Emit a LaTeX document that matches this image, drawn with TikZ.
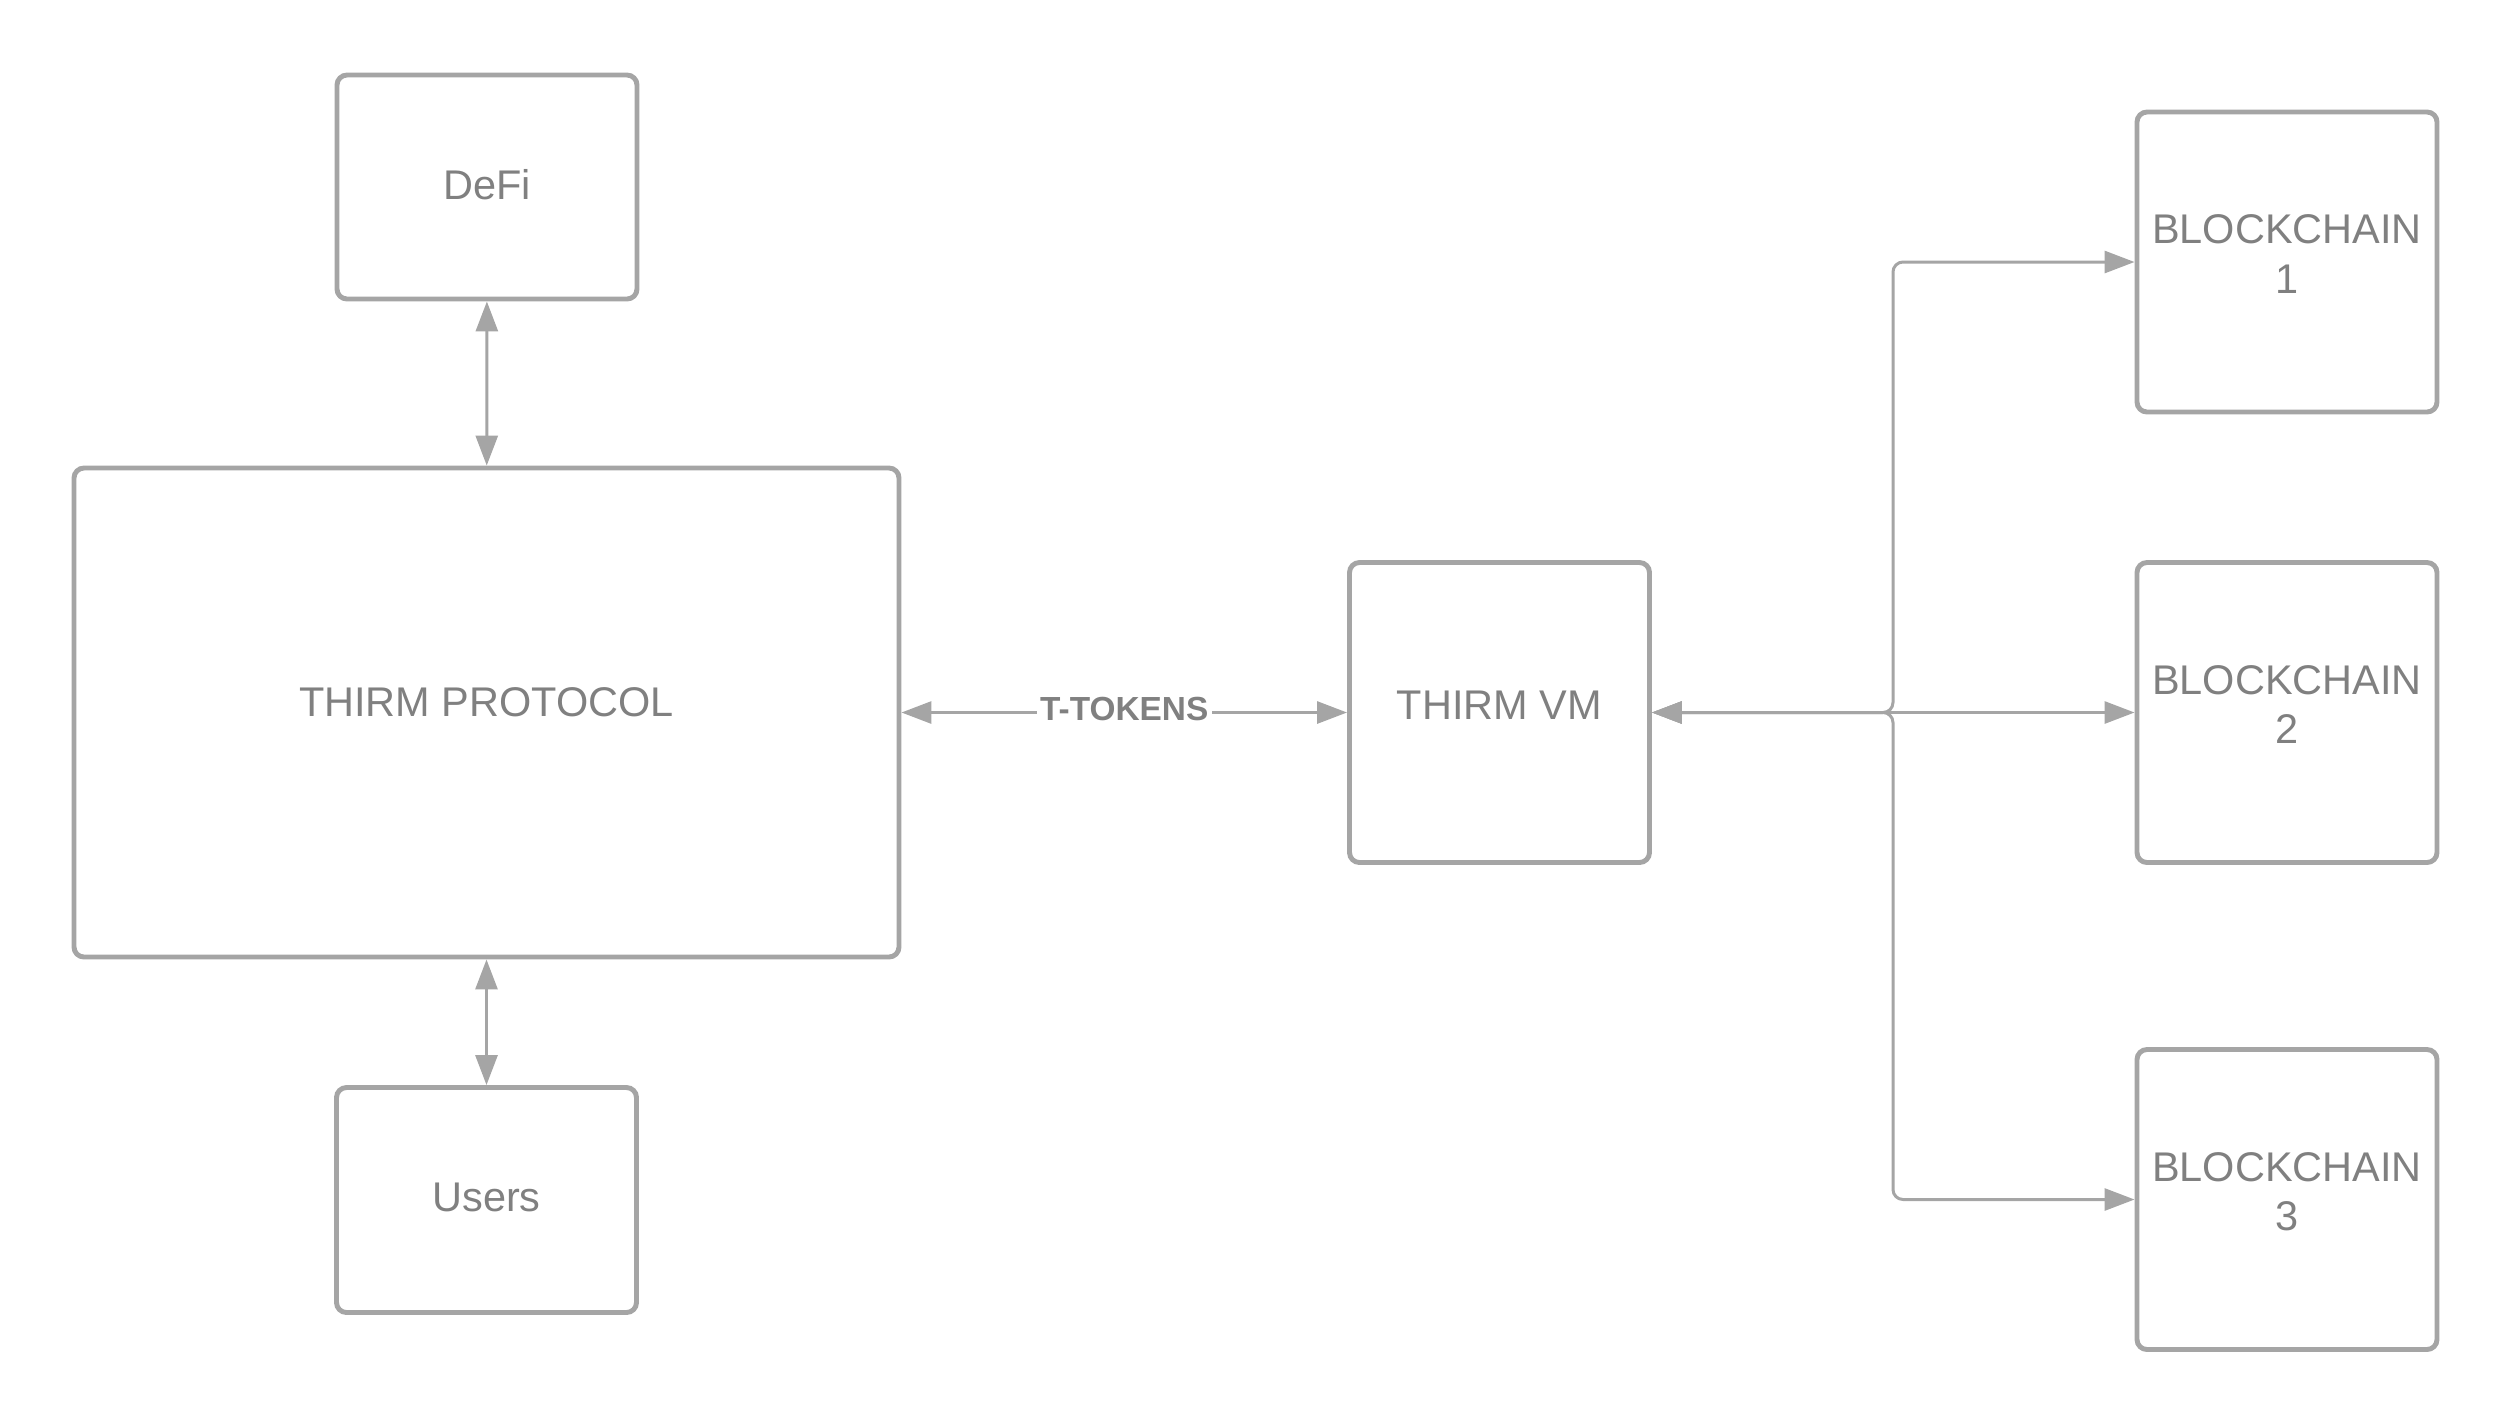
\documentclass[tikz,border=0pt]{standalone}
\usepackage{fontspec}
\setmainfont{Liberation Sans}
\usepackage{tikz}
\usetikzlibrary{arrows.meta,positioning,calc}
\definecolor{linegray}{RGB}{165,165,165}
\definecolor{textgray}{RGB}{128,128,128}

\begin{document}
\begin{tikzpicture}[
    block/.style={rectangle, draw=linegray, line width=1.4pt, fill=white, rounded corners=0.1cm,
                  minimum width=#1, minimum height=3cm, align=center, text=textgray,
                  font=\fontsize{11.8}{14.2}\selectfont, inner sep=0pt, text depth=0.06cm},
    biarrow/.style={{Triangle[length=0.3cm,width=0.22cm]}-{Triangle[length=0.3cm,width=0.22cm]},
                    draw=linegray, line width=0.85pt},
    tlabel/.style={fill=white, text=textgray, font=\fontsize{9.5}{11}\selectfont\bfseries,
                   inner sep=1pt, yshift=0.04cm}
]
\useasboundingbox (0,0) rectangle (25.13,-14.25);

% Left column
\node[block=3cm, minimum height=2.24cm] (defi) at (4.87,-1.87) {DeFi};
\node[block=8.25cm, minimum height=4.89cm, text depth=0.2cm] (protocol) at (4.865,-7.125) {THIRM PROTOCOL};
\node[block=3cm, minimum height=2.25cm] (users) at (4.865,-12.0) {Users};

% Virtual machine
\node[block=3cm, text depth=0.14cm] (vm) at (14.995,-7.125) {THIRM VM};

% Blockchains on the right
\node[block=3cm, text depth=0.16cm] (bc1) at (22.87,-2.62) {BLOCKCHAIN\\1};
\node[block=3cm, text depth=0.16cm] (bc2) at (22.87,-7.125) {BLOCKCHAIN\\2};
\node[block=3cm, text depth=0.16cm] (bc3) at (22.87,-11.995) {BLOCKCHAIN\\3};

% Branch point
\coordinate (split) at (18.93,-7.125);

% Connections
\draw[biarrow] (defi) -- (protocol);
\draw[biarrow] (protocol) -- (users);
\draw[biarrow] (protocol.east) -- (vm.west) node[midway, tlabel] {T-TOKENS};
\draw[biarrow, rounded corners=0.1cm] (vm.east) -- (vm.east -| split) |- (bc1.west);
\draw[biarrow] (vm.east) -- (bc2.west);
\draw[biarrow, rounded corners=0.1cm] (vm.east) -- (vm.east -| split) |- (bc3.west);

\end{tikzpicture}
\end{document}
